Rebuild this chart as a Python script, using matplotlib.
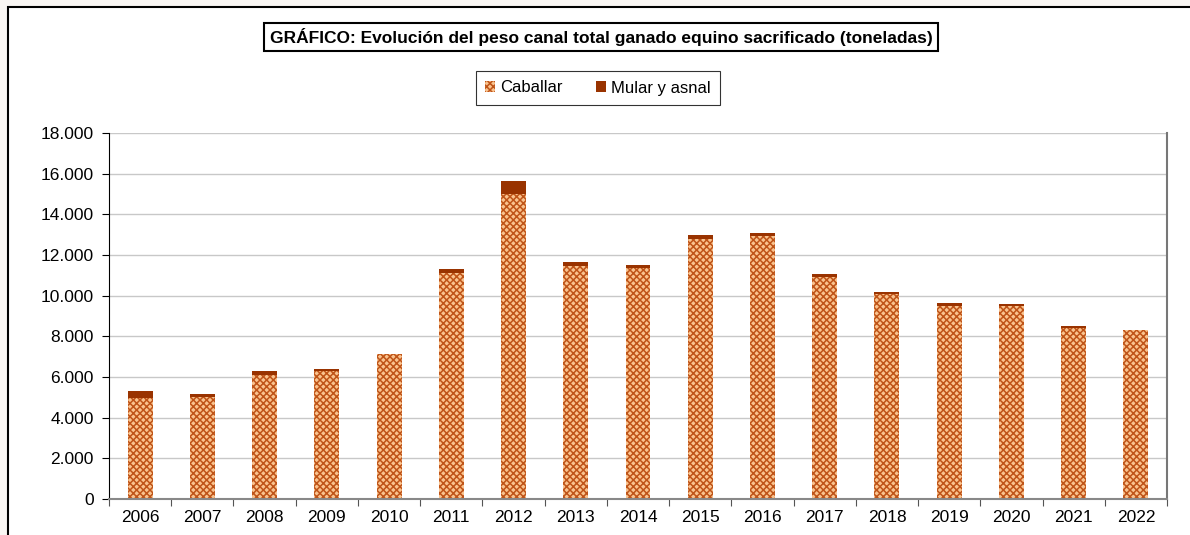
import matplotlib.pyplot as plt
from matplotlib.patches import Rectangle
from matplotlib.ticker import FuncFormatter, MultipleLocator

years = ['2006', '2007', '2008', '2009', '2010', '2011', '2012', '2013', '2014',
         '2015', '2016', '2017', '2018', '2019', '2020', '2021', '2022']
caballar = [4990, 5020, 6100, 6310, 7110, 11130, 15000, 11460, 11380,
            12790, 12920, 10940, 10070, 9510, 9490, 8430, 8290]
mular = [320, 150, 210, 80, 40, 170, 640, 210, 130,
         180, 160, 110, 110, 130, 100, 80, 30]

plt.rcParams['font.family'] = ['Liberation Sans', 'DejaVu Sans']
plt.rcParams['hatch.linewidth'] = 1.1
plt.rcParams['hatch.color'] = '#BF5418'

fig = plt.figure(figsize=(11.9, 5.35), dpi=100)
fig.patch.set_facecolor('#F9F6F3')

# outer chart frame on a background axes
bg = fig.add_axes([0, 0, 1, 1], zorder=-5)
bg.set_xlim(0, 1190)
bg.set_ylim(535, 0)
bg.axis('off')
bg.add_patch(Rectangle((8, 7), 1300, 600, facecolor='white', edgecolor='black', linewidth=1.5))

ax = fig.add_axes([109 / 1190, 36 / 535, (1167 - 109) / 1190, (499 - 133) / 535])
ax.set_facecolor('white')

x = range(len(years))
ax.bar(x, caballar, width=0.4, color='#FAC38E', hatch='xxxxx', edgecolor='#BF5418',
       linewidth=0, label='Caballar', zorder=2)
ax.bar(x, mular, width=0.4, bottom=caballar, color='#993300', linewidth=0,
       label='Mular y asnal', zorder=2)

ax.set_xlim(-0.5, len(years) - 0.5)
ax.set_ylim(0, 18000)
ax.yaxis.set_major_locator(MultipleLocator(2000))
ax.yaxis.set_major_formatter(FuncFormatter(lambda v, p: f'{int(v):,}'.replace(',', '.')))
ax.grid(axis='y', color='#C8C8C8', linewidth=1, zorder=0)

ax.set_xticks([i - 0.5 for i in range(len(years) + 1)])
ax.set_xticklabels([])
ax.set_xticks(list(x), minor=True)
ax.set_xticklabels(years, minor=True)
ax.tick_params(axis='x', which='major', length=5, direction='out', color='#555555')
ax.tick_params(axis='x', which='minor', length=0, labelsize=12.5, pad=8)
ax.tick_params(axis='y', length=5, direction='out', labelsize=12.5, pad=6)

ax.spines['top'].set_visible(False)
ax.spines['left'].set_color('black')
ax.spines['bottom'].set_color('#888888')
ax.spines['bottom'].set_linewidth(1.5)
ax.spines['right'].set_color('#777777')
ax.spines['right'].set_linewidth(1.5)

fig.text(0.5 + 6 / 1190, 1 - 37 / 535,
         'GRÁFICO: Evolución del peso canal total ganado equino sacrificado (toneladas)',
         ha='center', va='center', fontsize=12.5, fontweight='bold',
         bbox=dict(boxstyle='square,pad=0.3', facecolor='white', edgecolor='black', linewidth=1.5))

leg = fig.legend(loc='center', bbox_to_anchor=(598 / 1190, 1 - 88 / 535), ncol=2,
                 fontsize=12, frameon=True, fancybox=False, edgecolor='black',
                 handlelength=0.6, handleheight=0.6, handletextpad=0.3, columnspacing=2.0,
                 borderpad=0.55)
leg.get_frame().set_linewidth(0.8)

fig.savefig('out.png', dpi=100, facecolor=fig.get_facecolor())
